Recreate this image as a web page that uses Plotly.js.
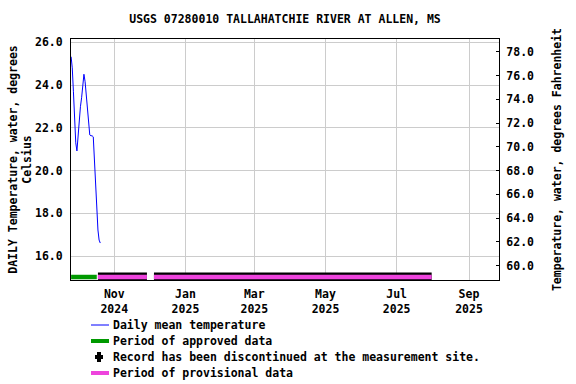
<!DOCTYPE html>
<html>
<head>
<meta charset="utf-8">
<script src="https://cdn.plot.ly/plotly-3.0.1.min.js"></script>
<style>html,body{margin:0;padding:0;background:#fff;}#chart{width:576px;height:384px;}</style>
</head>
<body>
<div id="chart"></div>
<script>
const chartTitle = 'USGS 07280010 TALLAHATCHIE RIVER AT ALLEN, MS';
const tempDates = ['2024-09-25','2024-09-26','2024-09-27','2024-09-28','2024-09-29','2024-09-30',
  '2024-10-01','2024-10-02','2024-10-03','2024-10-04','2024-10-05','2024-10-06','2024-10-07',
  '2024-10-08','2024-10-09','2024-10-10','2024-10-11','2024-10-12','2024-10-13','2024-10-14',
  '2024-10-15','2024-10-16','2024-10-17','2024-10-18','2024-10-19','2024-10-20'];
const tempC = [25.33,24.81,23.69,22.42,21.30,20.92,21.67,22.38,22.99,23.41,23.88,24.51,24.16,
  23.50,22.70,22.05,21.67,21.63,21.63,21.58,20.50,19.09,17.92,17.22,16.75,16.61];
const approvedStart = ['2024-09-25'];
const approvedEnd = ['2024-10-17'];
const provisionalStart = ['2024-10-18','2024-12-05'];
const provisionalEnd = ['2024-11-29','2025-07-31'];
const periodLevel = 15.02;
const xTickVals = ['2024-11-01','2025-01-01','2025-03-01','2025-05-01','2025-07-01','2025-09-01'];
const xTickText = ['Nov<br>2024','Jan<br>2025','Mar<br>2025','May<br>2025','Jul<br>2025','Sep<br>2025'];
const yTickValsC = [16,18,20,22,24,26];
const yTickValsF = [60,62,64,66,68,70,72,74,76,78];
const legendNames = ['Daily mean temperature','Period of approved data',
  'Record has been discontinued at the measurement site.','Period of provisional data'];
const legendColors = ['#0000ff','#009900','#000000','#ee44dd'];

function periodXY(starts, ends) {
  const x = [], y = [];
  starts.forEach((s, i) => {
    if (i > 0) { x.push(null); y.push(null); }
    x.push(s, ends[i]); y.push(periodLevel, periodLevel);
  });
  return {x, y};
}
const appr = periodXY(approvedStart, approvedEnd);
const prov = periodXY(provisionalStart, provisionalEnd);

const FONT = 'DejaVu Sans Mono, monospace';
const fnt = {family: FONT, size: 11.5, color: '#000', weight: 'bold'};

const W = 576, H = 384;
const M = {l: 71, r: 77, t: 39, b: 104};
const PW = W - M.l - M.r, PH = H - M.t - M.b;
const px2x = px => (px - M.l) / PW;
const py2y = py => (H - M.b - py) / PH;

const yMinC = 14.88, yMaxC = 26.16;

const traces = [
  {x: tempDates, y: tempC, type: 'scatter', mode: 'lines', name: legendNames[0],
   line: {color: legendColors[0], width: 1}, yaxis: 'y'},
  {x: appr.x, y: appr.y, type: 'scatter', mode: 'lines', name: legendNames[1],
   line: {color: legendColors[1], width: 4.5}, yaxis: 'y', connectgaps: false},
  {x: prov.x, y: prov.y, type: 'scatter', mode: 'lines', name: 'outline',
   line: {color: '#000', width: 9}, yaxis: 'y', connectgaps: false, cliponaxis: false},
  {x: prov.x, y: prov.y, type: 'scatter', mode: 'lines', name: legendNames[3],
   line: {color: legendColors[3], width: 4.5}, yaxis: 'y', connectgaps: false, cliponaxis: false},
  {x: [null], y: [null], type: 'scatter', mode: 'lines', yaxis: 'y2', name: 'F'}
];

// manual legend (pixel positions of entries)
const legY = [325, 341, 357, 373];
const legLineX0 = 91, legLineX1 = 109, legTextX = 112;
const shapes = [], annotations = [];
legendNames.forEach((name, i) => {
  annotations.push({xref: 'paper', yref: 'paper', x: px2x(legTextX), y: py2y(legY[i]),
    xanchor: 'left', yanchor: 'middle', showarrow: false, text: name, font: fnt, borderpad: 0});
  if (i === 2) {
    const cx = 99, cy = legY[i];
    shapes.push({type: 'rect', xref: 'paper', yref: 'paper', x0: px2x(cx - 4), x1: px2x(cx + 4),
      y0: py2y(cy - 2), y1: py2y(cy + 2), fillcolor: '#000', line: {width: 0}});
    shapes.push({type: 'rect', xref: 'paper', yref: 'paper', x0: px2x(cx - 2), x1: px2x(cx + 2),
      y0: py2y(cy - 5), y1: py2y(cy + 5), fillcolor: '#000', line: {width: 0}});
  } else {
    shapes.push({type: 'line', xref: 'paper', yref: 'paper', x0: px2x(legLineX0), x1: px2x(legLineX1),
      y0: py2y(legY[i]), y1: py2y(legY[i]), line: {color: legendColors[i], width: i === 0 ? 1 : 4}});
  }
});

const layout = {
  width: W, height: H,
  margin: M,
  paper_bgcolor: '#fff', plot_bgcolor: '#fff',
  font: fnt,
  showlegend: false,
  title: {text: chartTitle, font: fnt, x: 0.5, xref: 'paper', y: 0.95, yref: 'container', yanchor: 'middle'},
  xaxis: {
    type: 'date', range: ['2024-09-24T22:00', '2025-09-26T17:00'],
    tickvals: xTickVals, ticktext: xTickText, tickfont: fnt,
    showgrid: true, gridcolor: '#cccccc', gridwidth: 1,
    ticks: 'outside', ticklen: 3, tickcolor: 'rgba(0,0,0,0)',
    showline: true, linecolor: '#000', linewidth: 1, mirror: true, zeroline: false
  },
  yaxis: {
    range: [yMinC, yMaxC], tickvals: yTickValsC, tickformat: '.1f', tickfont: fnt,
    showgrid: true, gridcolor: '#cccccc', gridwidth: 1,
    ticks: 'outside', ticklen: 5, tickcolor: 'rgba(0,0,0,0)',
    showline: true, linecolor: '#000', linewidth: 1, zeroline: false,
    title: {text: 'DAILY Temperature, water, degrees<br>Celsius', font: fnt, standoff: 0}
  },
  yaxis2: {
    overlaying: 'y', side: 'right',
    range: [yMinC * 1.8 + 32, yMaxC * 1.8 + 32], tickvals: yTickValsF, tickformat: '.1f', tickfont: fnt,
    showgrid: false, ticks: 'inside', ticklen: 3, tickcolor: '#000',
    showline: true, linecolor: '#000', linewidth: 1, zeroline: false,
    ticklabelstandoff: 4,
    title: {text: 'Temperature, water, degrees Fahrenheit', font: fnt, standoff: 19}
  },
  shapes: shapes,
  annotations: annotations
};

Plotly.newPlot('chart', traces, layout, {displayModeBar: false, staticPlot: true});
</script>
</body>
</html>
